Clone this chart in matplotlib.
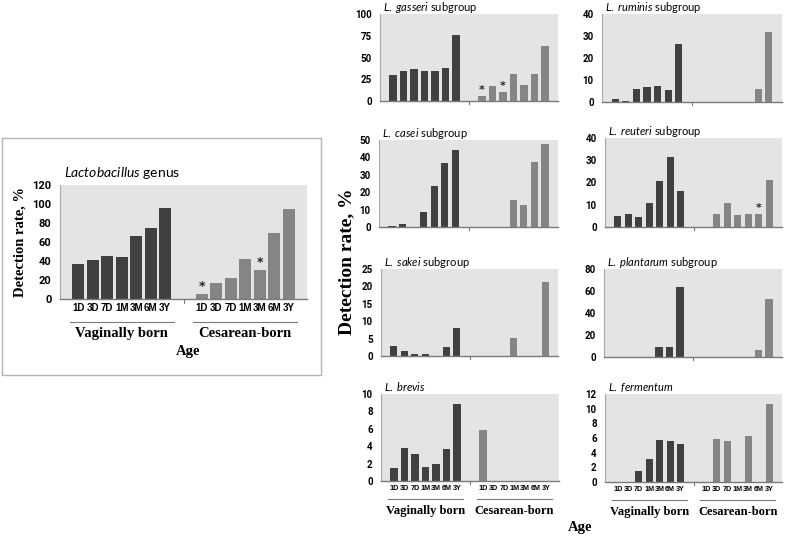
# Lactobacillus detection rates by age and delivery mode
import matplotlib
matplotlib.use('Agg')
import matplotlib.pyplot as plt
import matplotlib.transforms as mtransforms
from matplotlib.patches import Rectangle

plt.rcParams['mathtext.fontset'] = 'custom'
plt.rcParams['mathtext.rm'] = 'Lato'
plt.rcParams['mathtext.it'] = 'Lato:italic'

# Data
ages = ['1D', '3D', '7D', '1M', '3M', '6M', '3Y']
groups = ['Vaginally born', 'Cesarean-born']

genus_vag = [37, 41, 45, 44, 66, 75, 96]
genus_ces = [5, 17, 22, 42, 31, 69, 95]
genus_star = [0, 4]

gasseri_vag = [30, 35, 37, 34.5, 34.5, 37.5, 76]
gasseri_ces = [5.4, 17, 10, 31, 18, 31, 63]
gasseri_star = [0, 2]

ruminis_vag = [1.2, 0.6, 6, 7, 7.4, 5.4, 26.5]
ruminis_ces = [0, 0, 0, 0, 0, 6, 31.7]

casei_vag = [0.5, 2, 0, 8.4, 23.5, 37, 44]
casei_ces = [0, 0, 0, 15.5, 12.6, 37.5, 47.5]

reuteri_vag = [5, 5.7, 4.4, 10.9, 20.5, 31.5, 16]
reuteri_ces = [0, 5.7, 11, 5.3, 6, 6, 21]
reuteri_star = [5]

sakei_vag = [2.9, 1.45, 0.6, 0.6, 0, 2.7, 8.1]
sakei_ces = [0, 0, 0, 5.2, 0, 0, 21.2]

plantarum_vag = [0.4, 0, 0.3, 0, 9.4, 9.4, 64]
plantarum_ces = [0, 0, 0, 0, 0, 6.4, 53]

brevis_vag = [1.45, 3.8, 3.1, 1.6, 1.9, 3.7, 8.85]
brevis_ces = [5.9, 0, 0, 0, 0, 0, 0]

fermentum_vag = [0, 0, 1.55, 3.1, 5.7, 5.55, 5.15]
fermentum_ces = [0, 5.9, 5.55, 0, 6.3, 0, 10.6]

W, H = 787, 538
DARK = '#404040'
LIGHT = '#858585'
BG = '#e4e4e4'

fig = plt.figure(figsize=(W / 100, H / 100), dpi=100)


def px_axes(x0, y0, x1, y1):
    return fig.add_axes([x0 / W, 1 - y1 / H, (x1 - x0) / W, (y1 - y0) / H])


def draw_panel(ax, vag, ces, ymax, step, title, stars=(), spacing=0.118,
               width=0.08, tick_size=7, show_x=False, xfs=5, gfs=9,
               line_y=-0.21, group_y=-0.345, star_off=0, title_fs=8,
               title_y=1.035):
    ax.set_facecolor(BG)
    n = len(ages)
    xv = [0.5 + (i - 3) * spacing for i in range(n)]
    xc = [1.5 + (i - 3) * spacing for i in range(n)]
    ax.bar(xv, vag, width=width, color=DARK, zorder=2)
    ax.bar(xc, ces, width=width, color=LIGHT, zorder=2)
    for i in stars:
        ax.text(xc[i], ces[i] + star_off, '*', ha='center', va='bottom',
                fontsize=tick_size + 1, fontweight='bold', color='#222222')
    ax.set_xlim(0, 2)
    ax.set_ylim(0, ymax)
    yt = list(range(0, int(ymax) + 1, step))
    ax.set_yticks(yt)
    ax.set_yticklabels([str(t) for t in yt], fontsize=tick_size,
                       fontfamily='Roboto', fontweight='bold')
    ax.tick_params(axis='y', length=0, pad=6)
    for s in ['top', 'right']:
        ax.spines[s].set_visible(False)
    ax.spines['left'].set_color('#a8a8a8')
    ax.spines['bottom'].set_color('#7a7a7a')
    ax.spines['bottom'].set_linewidth(1.0)
    # small tick between the groups
    trans = mtransforms.blended_transform_factory(ax.transData, ax.transAxes)
    ax.plot([1, 1], [0, -0.035], color='#7a7a7a', lw=0.8, transform=trans,
            clip_on=False)
    if show_x:
        ax.set_xticks(xv + xc)
        ax.set_xticklabels(ages + ages, fontsize=xfs,
                           fontfamily='Liberation Sans', fontweight='bold')
        ax.tick_params(axis='x', length=0, pad=3)
        for g, xs in enumerate([xv, xc]):
            lo = xs[0] - spacing * 0.6
            hi = xs[-1] + spacing * 0.6
            ax.plot([lo, hi], [line_y, line_y], color='#7a7a7a', lw=0.8,
                    transform=trans, clip_on=False)
            ax.text(g + 0.5, group_y, groups[g], transform=trans, ha='center',
                    va='center', fontsize=gfs, fontfamily='Liberation Serif',
                    fontweight='bold')
    else:
        ax.set_xticks([])
    if title:
        ax.text(0.015, title_y, title, transform=ax.transAxes, ha='left',
                va='baseline', fontsize=title_fs, fontfamily='Lato')


# Left box with genus panel
fig.patches.append(Rectangle((2 / W, 1 - 375 / H), 319 / W, 237 / H,
                             transform=fig.transFigure, fill=False,
                             edgecolor='#b4b4b4', lw=1.0))
ax = px_axes(60, 185, 307, 299)
draw_panel(ax, genus_vag, genus_ces, 120, 20, r'$\mathit{Lactobacillus}$ genus',
           stars=genus_star, spacing=0.117, width=0.097, tick_size=8,
           show_x=True, xfs=7, gfs=10.5, line_y=-0.2, group_y=-0.3,
           star_off=1, title_fs=10, title_y=1.07)
ax.set_ylabel('Detection rate, %', fontsize=10.5, fontfamily='Liberation Serif',
              fontweight='bold', labelpad=4)
fig.text(188 / W, 1 - 352 / H, 'Age', ha='center', va='center', fontsize=10.5,
         fontfamily='Liberation Serif', fontweight='bold')

# Subgroup panels
panels = [
    ((380, 14, 558, 101), gasseri_vag, gasseri_ces, 100, 25,
     r'$\mathit{L.\ gasseri}$ subgroup', gasseri_star),
    ((602, 14, 782, 102), ruminis_vag, ruminis_ces, 40, 10,
     r'$\mathit{L.\ ruminis}$ subgroup', []),
    ((379, 140, 558, 227), casei_vag, casei_ces, 50, 10,
     r'$\mathit{L.\ casei}$ subgroup', []),
    ((605, 138, 782, 227), reuteri_vag, reuteri_ces, 40, 10,
     r'$\mathit{L.\ reuteri}$ subgroup', reuteri_star),
    ((381, 269, 558, 356), sakei_vag, sakei_ces, 25, 5,
     r'$\mathit{L.\ sakei}$ subgroup', []),
    ((604, 269, 782, 357), plantarum_vag, plantarum_ces, 80, 20,
     r'$\mathit{L.\ plantarum}$ subgroup', []),
    ((381, 394, 559, 481), brevis_vag, brevis_ces, 10, 2,
     r'$\mathit{L.\ brevis}$', []),
    ((605, 394, 782, 482), fermentum_vag, fermentum_ces, 12, 2,
     r'$\mathit{L.\ fermentum}$', []),
]
for k, (box, v, c, ymax, step, title, stars) in enumerate(panels):
    ax = px_axes(*box)
    draw_panel(ax, v, c, ymax, step, title, stars=stars, show_x=(k >= 6),
               xfs=5.2, gfs=9, star_off=ymax * 0.01)

fig.text(347 / W, 1 - 262 / H, 'Detection rate, %', rotation=90, ha='center',
         va='center', fontsize=14, fontfamily='Liberation Serif',
         fontweight='bold')
fig.text(580 / W, 1 - 527 / H, 'Age', ha='center', va='center', fontsize=10.5,
         fontfamily='Liberation Serif', fontweight='bold')

fig.savefig('out.png', dpi=100)
